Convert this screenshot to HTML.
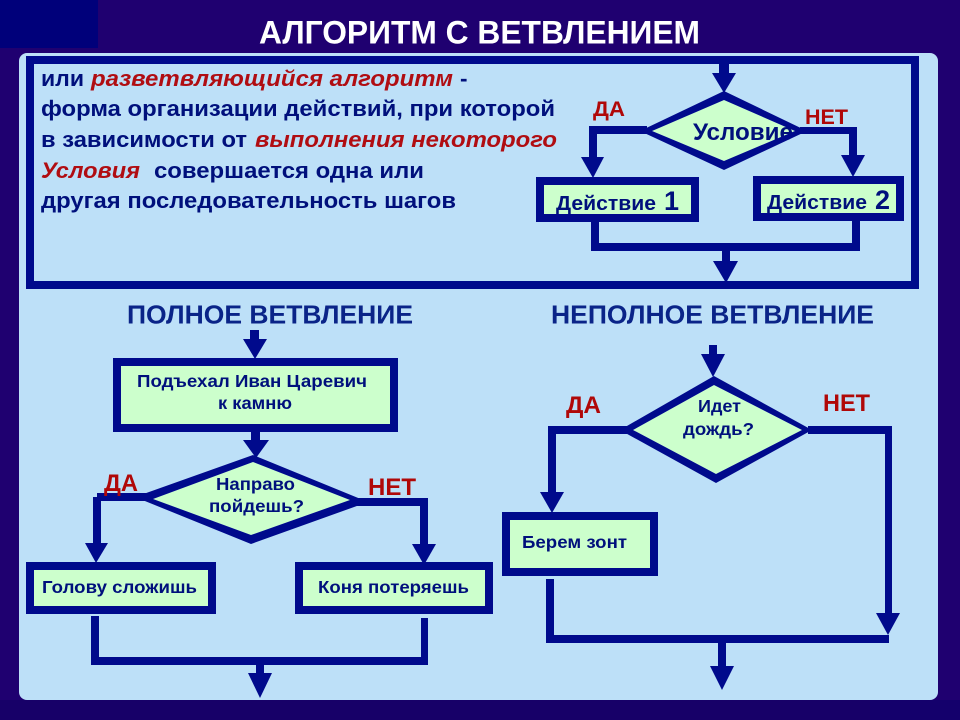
<!DOCTYPE html>
<html lang="ru"><head><meta charset="utf-8"><title>Алгоритм с ветвлением</title>
<style>
html,body{margin:0;padding:0;width:960px;height:720px;overflow:hidden;background:#1f0070}
svg{display:block}
text{font-family:"Liberation Sans",sans-serif;font-weight:bold}
.t{fill:#00107c;font-size:22.5px}
.r{fill:#b00d12;font-style:italic;font-size:22.5px}
.l{fill:#b00808;font-size:24.5px}
.k{fill:#b00808;font-size:21.5px}
.h{fill:#0a2488;font-size:26px}
.s{fill:#00107c;font-size:17.5px}
</style></head><body>
<svg width="960" height="720" viewBox="0 0 960 720" xmlns="http://www.w3.org/2000/svg">
<rect width="960" height="720" fill="#1f0070"/>
<rect width="98" height="48" fill="#00007a"/>
<rect x="870" y="700" width="90" height="20" fill="#14006c"/>
<rect x="0" y="700" width="870" height="20" fill="#170068"/>
<rect x="19" y="53" width="919" height="647" rx="8" fill="#bde0f8"/>
<text x="259" y="43.5" font-size="32" fill="#fff" textLength="441" lengthAdjust="spacingAndGlyphs">АЛГОРИТМ С ВЕТВЛЕНИЕМ</text>

<rect x="30" y="60" width="885" height="225" fill="none" stroke="#000a8c" stroke-width="8"/>

<text class="t" x="41" y="86" textLength="43" lengthAdjust="spacingAndGlyphs">или</text>
<text class="r" x="91" y="86" textLength="362" lengthAdjust="spacingAndGlyphs">разветвляющийся алгоритм</text>
<text class="t" x="460" y="86">-</text>
<text class="t" x="41" y="116" textLength="514" lengthAdjust="spacingAndGlyphs">форма организации действий, при которой</text>
<text class="t" x="41" y="147" textLength="206" lengthAdjust="spacingAndGlyphs">в зависимости от</text>
<text class="r" x="255" y="147" textLength="302" lengthAdjust="spacingAndGlyphs">выполнения некоторого</text>
<text class="r" x="41" y="178" textLength="99" lengthAdjust="spacingAndGlyphs">Условия</text>
<text class="t" x="154" y="178" textLength="270" lengthAdjust="spacingAndGlyphs">совершается одна или</text>
<text class="t" x="41" y="208" textLength="415" lengthAdjust="spacingAndGlyphs">другая последовательность шагов</text>

<g fill="#000a8c">
<!-- top flow -->
<rect x="719" y="60" width="10" height="16"/><polygon points="712,73 736,73 724,93"/>
<rect x="591" y="126" width="56" height="8"/><rect x="589" y="126" width="8" height="34"/><polygon points="581,157 604,157 593,178"/>
<rect x="800" y="127" width="53" height="7"/><rect x="849" y="127" width="8" height="30"/><polygon points="841,155 865,155 853,177"/>
<rect x="591" y="220" width="8" height="31"/><rect x="591" y="243" width="269" height="8"/><rect x="852" y="220" width="8" height="31"/>
<rect x="722" y="250" width="8" height="14"/><polygon points="713,261 738,261 726,283"/>
<!-- left flow -->
<rect x="250" y="330" width="9" height="12"/><polygon points="243,339 267,339 255,359"/>
<rect x="251" y="430" width="9" height="12"/><polygon points="243,440 269,440 256,458"/>
<rect x="97" y="493" width="50" height="8"/><rect x="93" y="497" width="8" height="48"/><polygon points="85,543 108,543 96,563"/>
<rect x="350" y="498" width="77" height="8"/><rect x="420" y="498" width="8" height="48"/><polygon points="412,544 436,544 424,565"/>
<rect x="91" y="616" width="8" height="49"/><rect x="91" y="657" width="337" height="8"/><rect x="421" y="618" width="7" height="47"/>
<rect x="256" y="664" width="8" height="12"/><polygon points="248,673 272,673 260,698"/>
<!-- right flow -->
<rect x="709" y="345" width="8" height="12"/><polygon points="701,354 725,354 713,377"/>
<rect x="552" y="426" width="75" height="8"/><rect x="548" y="426" width="8" height="68"/><polygon points="540,492 564,492 552,513"/>
<rect x="808" y="426" width="84" height="8"/><rect x="885" y="426" width="7" height="190"/><polygon points="876,613 900,613 888,635"/>
<rect x="546" y="579" width="8" height="64"/><rect x="546" y="635" width="343" height="8"/>
<rect x="718" y="642" width="8" height="27"/><polygon points="710,666 734,666 722,690"/>
</g>

<!-- boxes -->
<g fill="#ccffcc" stroke="#000a8c" stroke-width="8">
<rect x="540" y="181" width="155" height="37"/>
<rect x="757" y="180" width="143" height="37"/>
<rect x="117" y="362" width="277" height="66"/>
<rect x="30" y="566" width="182" height="44"/>
<rect x="299" y="566" width="190" height="44"/>
<rect x="506" y="516" width="148" height="56"/>
</g>

<!-- diamond fills -->
<g fill="#ccffcc">
<polygon points="652,131 724,100 795,131 724,161"/>
<polygon points="153,499 253,462 350,500 251,535"/>
<polygon points="633,430 714,385 802,430 716,474"/>
</g>

<!-- labels -->
<text x="693" y="140" font-size="24" fill="#00107c" textLength="100" lengthAdjust="spacingAndGlyphs">Условие</text>
<text x="556" y="210" font-size="20" fill="#00107c" textLength="100" lengthAdjust="spacingAndGlyphs">Действие</text>
<text x="664" y="210" font-size="27" fill="#00107c">1</text>
<text x="767" y="209" font-size="20" fill="#00107c" textLength="100" lengthAdjust="spacingAndGlyphs">Действие</text>
<text x="875" y="209" font-size="27" fill="#00107c">2</text>
<text class="s" x="137" y="387" textLength="230" lengthAdjust="spacingAndGlyphs">Подъехал Иван Царевич</text>
<text class="s" x="218" y="409" textLength="74" lengthAdjust="spacingAndGlyphs">к камню</text>
<text class="s" x="216" y="490" textLength="79" lengthAdjust="spacingAndGlyphs">Направо</text>
<text class="s" x="209" y="512" textLength="95" lengthAdjust="spacingAndGlyphs">пойдешь?</text>
<text class="s" x="42" y="593" textLength="155" lengthAdjust="spacingAndGlyphs">Голову сложишь</text>
<text class="s" x="318" y="593" textLength="151" lengthAdjust="spacingAndGlyphs">Коня потеряешь</text>
<text class="s" x="698" y="412" textLength="43" lengthAdjust="spacingAndGlyphs">Идет</text>
<text class="s" x="683" y="435" textLength="71" lengthAdjust="spacingAndGlyphs">дождь?</text>
<text class="s" x="522" y="548" textLength="105" lengthAdjust="spacingAndGlyphs">Берем зонт</text>

<!-- diamond rings over text -->
<g fill="#000a8c" fill-rule="evenodd">
<path d="M640,131 L724,91 L807,131 L724,170 Z M652,131 L724,161 L795,131 L724,100 Z"/>
<path d="M135,497 L253,455 L368,502 L251,544 Z M153,499 L251,535 L350,500 L253,462 Z"/>
<path d="M620,430 L714,376 L812,430 L716,483 Z M633,430 L716,474 L802,430 L714,385 Z"/>
</g>

<text class="h" x="127" y="323.5" textLength="286" lengthAdjust="spacingAndGlyphs">ПОЛНОЕ ВЕТВЛЕНИЕ</text>
<text class="h" x="551" y="323.5" textLength="323" lengthAdjust="spacingAndGlyphs">НЕПОЛНОЕ ВЕТВЛЕНИЕ</text>

<text class="k" x="593" y="116" textLength="32" lengthAdjust="spacingAndGlyphs">ДА</text>
<text class="k" x="805" y="124" textLength="43" lengthAdjust="spacingAndGlyphs">НЕТ</text>
<text class="l" x="104" y="491" textLength="34" lengthAdjust="spacingAndGlyphs">ДА</text>
<text class="l" x="368" y="495" textLength="48" lengthAdjust="spacingAndGlyphs">НЕТ</text>
<text class="l" x="566" y="413" textLength="35" lengthAdjust="spacingAndGlyphs">ДА</text>
<text class="l" x="823" y="411" textLength="47" lengthAdjust="spacingAndGlyphs">НЕТ</text>
</svg>
</body></html>
